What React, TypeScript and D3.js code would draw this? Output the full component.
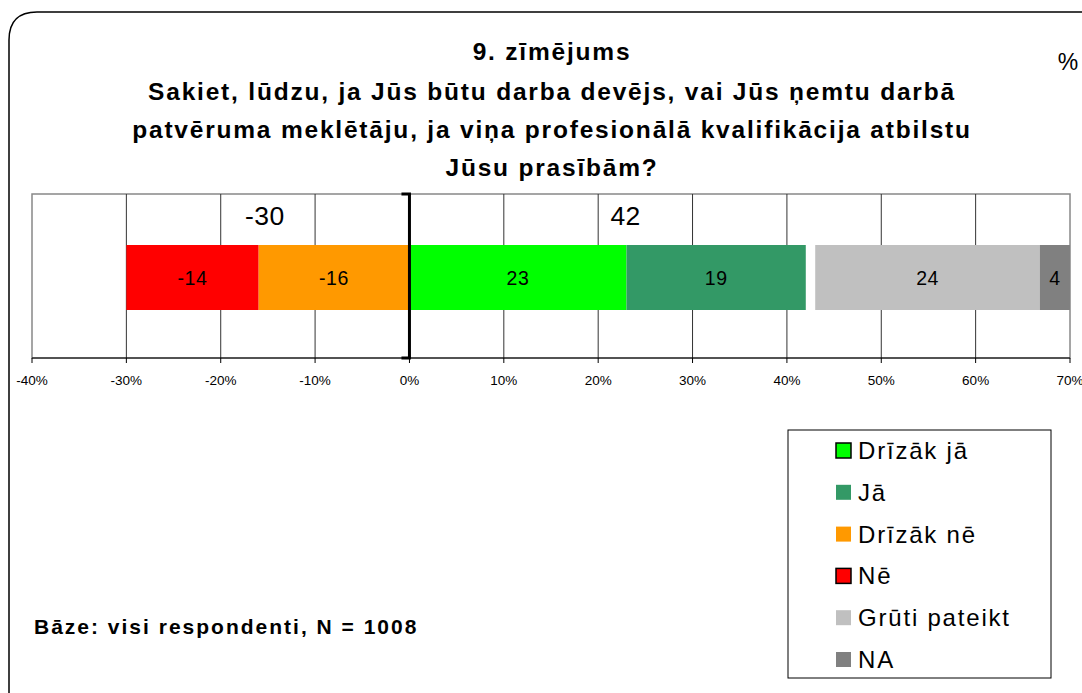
import React from "react";
import * as d3 from "d3";

const titleLines = [
  "9. zīmējums",
  "Sakiet, lūdzu, ja Jūs būtu darba devējs, vai Jūs ņemtu darbā",
  "patvēruma meklētāju, ja viņa profesionālā kvalifikācija atbilstu",
  "Jūsu prasībām?",
];
const negSeries = ["Drīzāk nē", "Nē"];
const negValues = [-16, -14];
const negColors = ["#FF9900", "#FF0000"];
const posSeries = ["Drīzāk jā", "Jā"];
const posValues = [23, 19];
const posColors = ["#00FF00", "#339966"];
const otherSeries = ["Grūti pateikt", "NA"];
const otherValues = [24, 4];
const otherColors = ["#C0C0C0", "#808080"];
const otherOffset = 1;
const ticks = [-40, -30, -20, -10, 0, 10, 20, 30, 40, 50, 60, 70];
const legendItems = ["Drīzāk jā", "Jā", "Drīzāk nē", "Nē", "Grūti pateikt", "NA"];
const legendColors = ["#00FF00", "#339966", "#FF9900", "#FF0000", "#C0C0C0", "#808080"];
const legendBorder = [true, false, false, true, false, false];
const baseNote = "Bāze: visi respondenti, N = 1008";

export default function App() {
  const W = 1082, H = 693;
  const left = 32, right = 1070, top = 194, bottom = 358;
  const x = d3.scaleLinear().domain([-40, 70]).range([left, right]);
  const barTop = 245, barH = 65;
  const font = "Arial, 'Liberation Sans', sans-serif";

  const segs: { x0: number; x1: number; color: string; label: string }[] = [];
  let acc = 0;
  negValues.forEach((v, i) => {
    segs.push({ x0: acc + v, x1: acc, color: negColors[i], label: String(v) });
    acc += v;
  });
  const negTotal = acc;
  acc = 0;
  posValues.forEach((v, i) => {
    segs.push({ x0: acc, x1: acc + v, color: posColors[i], label: String(v) });
    acc += v;
  });
  const posTotal = acc;
  acc = posTotal + otherOffset;
  otherValues.forEach((v, i) => {
    const a = acc;
    const b = Math.min(70, a + v - (i === 0 ? 0.2 : 0));
    segs.push({ x0: a, x1: b, color: otherColors[i], label: String(v) });
    acc = b;
  });

  return (
    <svg width={W} height={H} style={{ display: "block", position: "absolute", left: 0, top: 0 }}>
      <rect x={0} y={0} width={W} height={H} fill="#fff" />
      <path
        d={`M 9 ${H + 5} L 9 40 Q 9 12 37 12 L ${W + 5} 12`}
        fill="none"
        stroke="#000"
        strokeWidth={1.5}
      />
      {titleLines.map((t, i) => (
        <text
          key={i}
          x={552}
          y={[60, 100, 138, 176][i]}
          textAnchor="middle"
          fontFamily={font}
          fontWeight="bold"
          fontSize={24.5}
          letterSpacing={1.8}
          fill="#000"
        >
          {t}
        </text>
      ))}
      <text x={1068} y={70} textAnchor="middle" fontFamily={font} fontSize={23}>%</text>

      {/* plot area */}
      <rect x={left} y={top} width={right - left} height={bottom - top} fill="#fff" stroke="#888" strokeWidth={1.5} />
      {ticks.filter(t => t !== 0 && t !== -40 && t !== 70).map(t => (
        <line key={t} x1={x(t)} x2={x(t)} y1={top} y2={bottom} stroke="#333" strokeWidth={1} />
      ))}
      {segs.map((s, i) => (
        <g key={i}>
          <rect x={x(s.x0)} y={barTop} width={x(s.x1) - x(s.x0)} height={barH} fill={s.color} />
          <text
            x={(x(s.x0) + x(s.x1)) / 2}
            y={barTop + barH / 2 + 7}
            textAnchor="middle"
            fontFamily={font}
            fontSize={19.5}
            letterSpacing={0.5}
          >
            {s.label}
          </text>
        </g>
      ))}
      <text x={x(negTotal / 2) - 3} y={225} textAnchor="middle" fontFamily={font} fontSize={26.5} letterSpacing={0.5}>{negTotal}</text>
      <text x={x(posTotal / 2) + 18} y={225} textAnchor="middle" fontFamily={font} fontSize={26.5} letterSpacing={0.5}>{posTotal}</text>

      {/* axis */}
      <line x1={left} x2={right} y1={bottom} y2={bottom} stroke="#000" strokeWidth={1} />
      {ticks.map(t => (
        <g key={t}>
          <line x1={x(t)} x2={x(t)} y1={bottom} y2={bottom + 5} stroke="#000" />
          <text x={x(t)} y={385} textAnchor="middle" fontFamily={font} fontSize={13.5}>{t}%</text>
        </g>
      ))}
      {/* zero line */}
      <line x1={x(0)} x2={x(0)} y1={top} y2={bottom} stroke="#000" strokeWidth={3} />
      <line x1={x(0) - 8} x2={x(0) + 1.5} y1={top} y2={top} stroke="#000" strokeWidth={3} />
      <line x1={x(0) - 8} x2={x(0) + 1.5} y1={bottom} y2={bottom} stroke="#000" strokeWidth={3} />

      {/* legend */}
      <rect x={788} y={430} width={263} height={248} fill="#fff" stroke="#000" strokeWidth={1} />
      {legendItems.map((l, i) => {
        const cy = 450 + i * 41.8;
        return (
          <g key={l}>
            <rect
              x={836}
              y={cy - 7}
              width={15}
              height={15}
              fill={legendColors[i]}
              stroke={legendBorder[i] ? "#000" : "none"}
              strokeWidth={1.5}
            />
            <text x={858} y={cy + 9} fontFamily={font} fontSize={24} letterSpacing={1.8}>{l}</text>
          </g>
        );
      })}

      <text x={34} y={634} fontFamily={font} fontWeight="bold" fontSize={21} letterSpacing={2.0}>{baseNote}</text>
    </svg>
  );
}
